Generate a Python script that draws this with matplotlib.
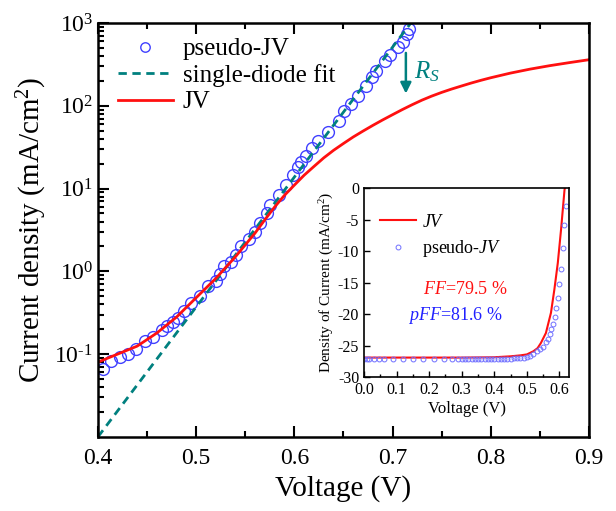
import matplotlib
matplotlib.use("Agg")
import matplotlib.pyplot as plt
from matplotlib.ticker import FixedLocator, LogLocator, NullFormatter, MultipleLocator

plt.rcParams['font.family'] = ['Liberation Serif', 'DejaVu Serif']
plt.rcParams['mathtext.fontset'] = 'custom'
plt.rcParams['mathtext.rm'] = 'Liberation Serif'
plt.rcParams['mathtext.it'] = 'Liberation Serif:italic'
plt.rcParams['axes.unicode_minus'] = False

# main panel: dark J-V on log scale
pseudo_v = [0.405, 0.413, 0.422, 0.431, 0.439, 0.448, 0.456, 0.465, 0.470, 0.476,
            0.482, 0.488, 0.495, 0.504, 0.512, 0.520, 0.524, 0.528, 0.536, 0.541,
            0.546, 0.554, 0.560, 0.565, 0.572, 0.575, 0.584, 0.592, 0.599, 0.604,
            0.607, 0.612, 0.618, 0.624, 0.634, 0.645, 0.651, 0.658, 0.665, 0.673,
            0.679, 0.683, 0.692, 0.697, 0.706, 0.711, 0.715, 0.717]
pseudo_j = [0.066, 0.083, 0.093, 0.100, 0.114, 0.144, 0.160, 0.195, 0.220, 0.245,
            0.275, 0.33, 0.41, 0.50, 0.67, 0.77, 0.92, 1.15, 1.30, 1.58,
            2.0, 2.45, 2.95, 3.8, 5.0, 6.3, 8.3, 11.0, 14.5, 18.0,
            21.0, 25.0, 31.0, 38.0, 48.0, 66.0, 87.0, 105.0, 132.0, 175.0,
            220.0, 260.0, 350.0, 410.0, 510.0, 590.0, 740.0, 850.0]

fit_v = [0.400, 0.720]
fit_j = [0.010, 1050.0]

jv_v = [0.40, 0.42, 0.44, 0.46, 0.48, 0.50, 0.52, 0.54, 0.56, 0.57, 0.58, 0.59,
        0.60, 0.61, 0.62, 0.63, 0.64, 0.65, 0.66, 0.67, 0.68, 0.69, 0.70, 0.71,
        0.72, 0.73, 0.74, 0.75, 0.76, 0.77, 0.78, 0.79, 0.80, 0.82, 0.84, 0.86,
        0.88, 0.90]
jv_j = [0.080, 0.10, 0.125, 0.18, 0.28, 0.48, 0.82, 1.5, 2.9, 4.2, 6.0, 8.3,
        11.0, 14.5, 18.5, 23.5, 29.0, 35.0, 42.0, 49.5, 58.0, 67.5, 78.0, 90.0,
        103.0, 117.0, 131.0, 145.0, 159.0, 173.0, 188.0, 203.0, 218.0, 248.0, 277.0, 305.0,
        332.0, 360.0]

y_ticks = [0.1, 1, 10, 100, 1000]
y_ticklabels = [r'$10^{\text{-1}}$', r'$10^{0}$', r'$10^{1}$', r'$10^{2}$', r'$10^{3}$']

# inset: illuminated J-V
in_jv_v = [0.0, 0.30, 0.40, 0.45, 0.48, 0.50, 0.52, 0.533, 0.543, 0.5585, 0.574,
           0.5845, 0.595, 0.605, 0.6157, 0.617]
in_jv_j = [-26.9, -26.9, -26.85, -26.7, -26.55, -26.4, -25.9, -25.4, -24.6, -23.0,
           -19.8, -16.1, -11.9, -6.6, -0.27, 0.0]

in_ps_v = [0.0, 0.008, 0.016, 0.03, 0.045, 0.06, 0.09, 0.12, 0.15, 0.18, 0.215,
           0.245, 0.27, 0.29, 0.30, 0.31, 0.32, 0.33, 0.34, 0.35, 0.36, 0.37, 0.38,
           0.39, 0.40, 0.41, 0.42, 0.43, 0.44, 0.45, 0.46, 0.47, 0.48, 0.49, 0.50,
           0.51, 0.52, 0.53, 0.54, 0.55, 0.56, 0.565, 0.57, 0.575, 0.58, 0.585,
           0.59, 0.595, 0.60, 0.605, 0.61, 0.615, 0.619]
in_ps_j = [-27.1, -27.1, -27.1, -27.1, -27.1, -27.1, -27.1, -27.1, -27.1, -27.1, -27.1,
           -27.1, -27.1, -27.1, -27.1, -27.1, -27.1, -27.1, -27.1, -27.1, -27.1, -27.1, -27.1,
           -27.1, -27.1, -27.1, -27.1, -27.1, -27.1, -27.05, -27.0, -27.0, -26.95, -26.9, -26.8,
           -26.6, -26.3, -25.9, -25.6, -25.2, -24.4, -23.9, -23.2, -22.4, -21.5, -20.4,
           -19.1, -17.4, -15.3, -12.9, -9.5, -5.8, -2.8]

teal = '#00807f'
blue = '#4040ff'
red = '#ff1010'

fig = plt.figure(figsize=(6.16, 5.11), dpi=100)
ax = fig.add_axes([0.159, 0.145, 0.797, 0.810])

ax.plot(pseudo_v, pseudo_j, 'o', ms=8.5, mfc='none', mec=blue, mew=1.0, label='pseudo-JV')
ax.plot(fit_v, fit_j, '--', color=teal, lw=2, dashes=(3, 2), label='single-diode fit')
ax.plot(jv_v, jv_j, '-', color=red, lw=2, label='JV')

ax.set_yscale('log')
ax.set_xlim(0.4, 0.9)
ax.set_ylim(0.01, 1000)
ax.xaxis.set_major_locator(MultipleLocator(0.1))
ax.xaxis.set_minor_locator(MultipleLocator(0.05))
ax.yaxis.set_major_locator(FixedLocator(y_ticks))
ax.set_yticklabels(y_ticklabels)
ax.yaxis.set_minor_locator(LogLocator(base=10, subs=range(2, 10)))
ax.yaxis.set_minor_formatter(NullFormatter())
ax.tick_params(which='both', direction='in', top=True, right=False, width=1.5)
ax.tick_params(which='major', length=8, labelsize=17)
ax.tick_params(which='minor', length=4)
ax.tick_params(axis='x', pad=8)
for s in ax.spines.values():
    s.set_linewidth(1.8)

ax.set_xlabel('Voltage (V)', fontsize=21)
ax.set_ylabel('Current density (mA/cm$^2$)', fontsize=21)

ax.legend(loc='upper left', fontsize=18, frameon=False, handlelength=2.2,
          handletextpad=0.4, labelspacing=0.15, borderaxespad=0.2,
          markerscale=0.8, bbox_to_anchor=(0.01, 1.0))

ax.annotate('', xy=(0.7136, 130), xytext=(0.7136, 470),
            arrowprops=dict(arrowstyle='-|>', color=teal, lw=1.8, mutation_scale=16))
ax.text(0.722, 260, '$R_S$', color=teal, fontsize=18, va='center', ha='left')

# inset
ins = fig.add_axes([0.591, 0.262, 0.333, 0.370])
ins.plot(in_jv_v, in_jv_j, '-', color=red, lw=1.5, label='$JV$')
ins.plot(in_ps_v, in_ps_j, 'o', ms=3.5, mfc='none', mec='#7070ff', mew=0.7,
         label='pseudo-$JV$')
ins.set_xlim(0.0, 0.63)
ins.set_ylim(-30, 0)
ins.xaxis.set_major_locator(MultipleLocator(0.1))
ins.xaxis.set_minor_locator(MultipleLocator(0.05))
ins.yaxis.set_major_locator(MultipleLocator(5))
ins.tick_params(which='both', direction='in', labelsize=11.5, width=1)
ins.tick_params(which='major', length=4)
ins.tick_params(which='minor', length=2)
for s in ins.spines.values():
    s.set_linewidth(1.2)
ins.set_xlabel('Voltage (V)', fontsize=12, labelpad=2)
ins.set_ylabel('Density of Current (mA/cm$^2$)', fontsize=11, labelpad=1)
ins.legend(loc='upper left', fontsize=13, frameon=False, handlelength=2.0,
           handletextpad=0.3, labelspacing=0.4, bbox_to_anchor=(0.0, 0.95))
ins.text(0.31, -16.8, '$FF$=79.5 %', color=red, fontsize=13, ha='center')
ins.text(0.28, -21.0, '$pFF$=81.6 %', color='#2020ff', fontsize=13, ha='center')

fig.savefig('out.png', dpi=100)
